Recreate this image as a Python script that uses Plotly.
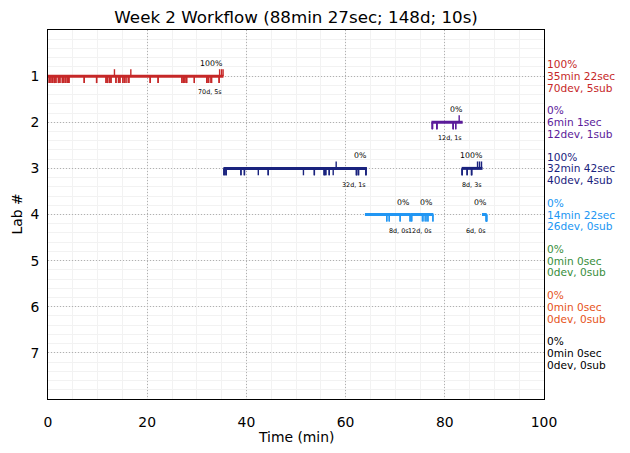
import plotly.graph_objects as go

# ---------------- data ----------------
title_text = "Week 2 Workflow (88min 27sec; 148d; 10s)"
labs = [1, 2, 3, 4, 5, 6, 7]
lab_colors = ["#c62828", "#5b1b9a", "#1a237e", "#2196f3", "#388e3c", "#e6541a", "#000000"]

seg_lab = [1, 3, 4, 4, 2, 3, 4]
seg_start = [0.0, 35.37, 63.9, 73.0, 77.3, 83.4, 87.5]
seg_end = [35.37, 64.3, 73.0, 77.7, 83.6, 87.6, 88.45]
seg_pct = ["100%", "0%", "0%", "0%", "0%", "100%", "0%"]

seg_devs = [
    [0.25, 0.25, 0.6, 0.6, 0.95, 0.95, 1.3, 1.3, 1.6, 1.6, 2.1, 2.1, 2.4, 2.4,
     2.9, 2.9, 3.2, 3.2, 3.6, 3.6, 4.0, 4.0, 4.2, 4.2, 4.2, 7.3, 7.3, 9.8, 9.8,
     11.7, 11.7, 12.0, 12.0, 12.4, 12.4, 12.7, 12.7,
     13.7, 13.7, 14.2, 14.5, 14.5, 15.1, 15.1, 15.5, 15.5, 15.9, 16.3, 16.3,
     20.6, 20.6, 22.2, 22.2, 27.0, 27.0, 27.3, 27.6, 27.6, 27.95, 27.95,
     29.5, 29.5, 32.0, 32.0, 32.3, 32.3, 32.7, 33.0, 34.5, 34.5],
    [35.5, 35.5, 35.5, 35.9, 35.9, 35.9, 38.9, 38.9, 39.6, 39.6, 42.4, 44.4, 44.4,
     51.5, 53.7, 53.7, 55.7, 55.7, 55.7, 56.0, 56.0, 56.7, 56.7, 57.5,
     62.2, 62.2, 62.2, 62.6, 62.6, 64.1, 64.1, 64.1],
    [68.3, 68.3, 68.8, 68.8, 71.0, 71.0, 73.0, 73.0],
    [73.3, 73.3, 73.3, 75.5, 75.5, 75.8, 76.2, 76.2, 76.6, 76.6, 77.6, 77.6],
    [77.5, 77.5, 77.5, 77.5, 78.4, 78.4, 78.4, 81.7, 81.7, 81.7, 82.2, 82.2],
    [83.5, 83.5, 83.5, 84.5, 84.5, 85.4, 85.4, 85.4],
    [88.35, 88.35, 88.4, 88.4, 88.45, 88.45],
]
seg_subs = [
    [13.4, 16.7, 34.6, 35.0, 35.3],
    [58.1],
    [],
    [],
    [82.9],
    [86.6, 87.0, 87.4],
    [],
]

summary_pct = ["100%", "0%", "100%", "0%", "0%", "0%", "0%"]
summary_time = ["35min 22sec", "6min 1sec", "32min 42sec", "14min 22sec",
                "0min 0sec", "0min 0sec", "0min 0sec"]

x_ticks = [0, 20, 40, 60, 80, 100]
y_ticks = [1, 2, 3, 4, 5, 6, 7]

# ---------------- figure ----------------
FONT = "DejaVu Sans"
TICK_LEN = 0.15
fig = go.Figure()

for i, lab in enumerate(seg_lab):
    col = lab_colors[lab - 1]
    fig.add_trace(go.Scatter(x=[seg_start[i], seg_end[i]], y=[lab, lab], mode="lines",
                             line=dict(color=col, width=3), hoverinfo="skip"))
    dx, dy = [], []
    for t in seg_devs[i]:
        dx += [t, t, None]
        dy += [lab, lab + TICK_LEN, None]
    for t in seg_subs[i]:
        dx += [t, t, None]
        dy += [lab, lab - TICK_LEN, None]
    if dx:
        fig.add_trace(go.Scatter(x=dx, y=dy, mode="lines",
                                 line=dict(color=col, width=1.4), hoverinfo="skip"))
    fig.add_annotation(x=seg_end[i], y=lab - 0.27, text=seg_pct[i], showarrow=False,
                       xanchor="right", yanchor="middle", borderpad=0,
                       font=dict(family=FONT, size=7.8, color="black"))
    fig.add_annotation(x=seg_end[i], y=lab + 0.35,
                       text=f"{len(seg_devs[i])}d, {len(seg_subs[i])}s", showarrow=False,
                       xanchor="right", yanchor="middle", borderpad=0,
                       font=dict(family=FONT, size=6.4, color="black"))

for k, lab in enumerate(labs):
    col = lab_colors[k]
    ndev = sum(len(seg_devs[i]) for i in range(len(seg_lab)) if seg_lab[i] == lab)
    nsub = sum(len(seg_subs[i]) for i in range(len(seg_lab)) if seg_lab[i] == lab)
    lines = [summary_pct[k], summary_time[k], f"{ndev}dev, {nsub}sub"]
    for j, txt in enumerate(lines):
        fig.add_annotation(xref="paper", x=1.0, xshift=2, y=lab + (j - 1) * 0.255,
                           text=txt, showarrow=False, xanchor="left", yanchor="middle",
                           borderpad=0,
                           font=dict(family=FONT, size=10.6, color=col))

# axis titles
fig.add_annotation(xref="paper", yref="paper", x=0.5, y=0, yshift=-38, text="Time (min)",
                   showarrow=False, xanchor="center", yanchor="middle",
                   font=dict(family=FONT, size=13.9, color="black"))
fig.add_annotation(xref="paper", yref="paper", x=0, xshift=-32, y=0.5, text="Lab #",
                   textangle=-90, showarrow=False, xanchor="center", yanchor="middle",
                   font=dict(family=FONT, size=13.9, color="black"))

axis_common = dict(showline=True, mirror=True, linecolor="black", linewidth=1,
                   zeroline=False, showgrid=True, gridcolor="#b0b0b0", griddash="1px,2px",
                   gridwidth=0.9, ticks="outside", tickcolor="rgba(0,0,0,0)",
                   tickfont=dict(family=FONT, size=13.9, color="black"))

fig.update_layout(
    width=630, height=453,
    margin=dict(l=48, r=86, t=30, b=54),
    paper_bgcolor="white", plot_bgcolor="white",
    showlegend=False,
    title=dict(text=title_text, x=0.47, xanchor="center", y=1 - 17 / 453, yanchor="middle",
               xref="container", yref="container",
               font=dict(family=FONT, size=16.7, color="black")),
    xaxis=dict(range=[0, 100], tickvals=x_ticks, ticklen=10,
               minor=dict(dtick=5, tick0=0, showgrid=True, gridcolor="#f2f2f2",
                          gridwidth=0.6, griddash="solid"),
               **axis_common),
    yaxis=dict(range=[8, 0], tickvals=y_ticks, ticklen=5,
               minor=dict(dtick=0.2, tick0=0, showgrid=True, gridcolor="#f2f2f2",
                          gridwidth=0.6, griddash="solid"),
               **axis_common),
)

fig.write_html("out.html", config={"displayModeBar": False},
               post_script="document.body.style.margin='0';document.body.style.overflow='hidden';")
